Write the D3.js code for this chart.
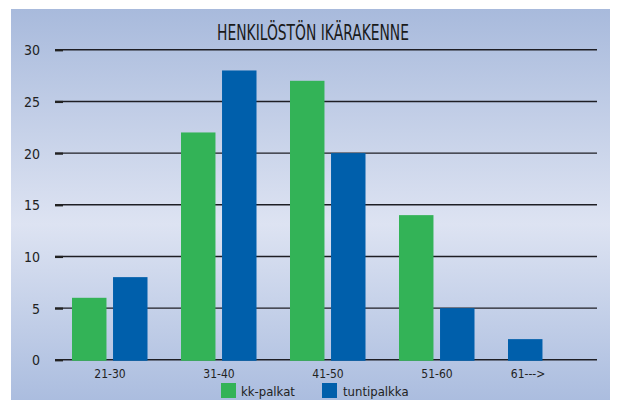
<!DOCTYPE html>
<html><head><meta charset="utf-8">
<script src="https://cdn.jsdelivr.net/npm/d3@7"></script>
<style>html,body{margin:0;padding:0;background:#fff;}svg{display:block;}</style>
</head><body>
<script>
const title = "HENKILÖSTÖN IKÄRAKENNE";
const categories = ["21-30", "31-40", "41-50", "51-60", "61--->"];
const seriesNames = ["kk-palkat", "tuntipalkka"];
const kkPalkat = [6, 22, 27, 14, 0];
const tuntipalkka = [8, 28, 20, 5, 2];
const yTicks = [0, 5, 10, 15, 20, 25, 30];
const colors = ["#33b357", "#005fab"];

const W = 617, H = 400;
const svg = d3.select("body").append("svg").attr("width", W).attr("height", H);
const defs = svg.append("defs");
const grad = defs.append("linearGradient").attr("id", "bg").attr("x1", 0).attr("y1", 0).attr("x2", 0).attr("y2", 1);
grad.append("stop").attr("offset", "0%").attr("stop-color", "#a8badc");
grad.append("stop").attr("offset", "55%").attr("stop-color", "#dde3f2");
grad.append("stop").attr("offset", "100%").attr("stop-color", "#abbddf");
svg.append("rect").attr("x", 11).attr("y", 9).attr("width", 599).attr("height", 391).attr("fill", "url(#bg)");

const font = "'Liberation Sans Narrow', 'DejaVu Sans Condensed', 'Roboto Condensed', sans-serif";

const x0 = d3.scaleBand().domain(categories).range([55.5, 600.5]);
const x1 = d3.scaleBand().domain([0, 1]).range([16.5, 92]).paddingInner(0.16);
const y = d3.scaleLinear().domain([0, 30]).range([359.8, 49.8]);

// gridlines
const grid = svg.append("g");
grid.selectAll("line").data(yTicks).join("line")
  .attr("x1", 55).attr("x2", 597)
  .attr("y1", d => y(d)).attr("y2", d => y(d))
  .attr("stroke", "#1e1e24").attr("stroke-width", 1.4);

// y axis
const yAxis = svg.append("g").attr("transform", "translate(63,0)")
  .call(d3.axisLeft(y).tickValues(yTicks).tickSize(8).tickPadding(15).tickFormat(d3.format("d")));
yAxis.select(".domain").remove();
yAxis.selectAll(".tick line").attr("stroke", "#222").attr("stroke-width", 2.2);
yAxis.selectAll(".tick text").attr("font-family", font).attr("font-size", 14).attr("fill", "#222")
  .attr("dy", "0.35em");

// bars (bars with a value are packed into the slots from the left, as in the original)
const data = categories.map((c, i) => ({cat: c, vals: [kkPalkat[i], tuntipalkka[i]]}));
const groups = svg.append("g").selectAll("g").data(data).join("g")
  .attr("transform", d => `translate(${x0(d.cat)},0)`);
groups.selectAll("rect")
  .data(d => d.vals.map((v, j) => ({v, j})).filter(e => e.v > 0).map((e, k) => ({...e, slot: k})))
  .join("rect")
  .attr("x", e => x1(e.slot)).attr("width", x1.bandwidth())
  .attr("y", e => y(e.v)).attr("height", e => y(0) - y(e.v) + 1)
  .attr("fill", e => colors[e.j]);

// x axis
const xAxis = svg.append("g").attr("transform", `translate(0,${y(0)})`)
  .call(d3.axisBottom(x0).tickSize(0).tickPadding(10));
xAxis.select(".domain").remove();
xAxis.selectAll(".tick text").attr("font-family", font).attr("font-size", 12).attr("fill", "#222");
xAxis.selectAll(".tick text").filter(d => d === "61--->").attr("dx", -18);

// title
svg.append("text").attr("x", 313).attr("y", 40).attr("text-anchor", "middle")
  .attr("font-family", font).attr("font-size", 21).attr("fill", "#1a1a1a")
  .attr("textLength", 192).attr("lengthAdjust", "spacingAndGlyphs")
  .text(title);

// legend
const legendX = [221, 322];
const leg = svg.append("g").selectAll("g").data(seriesNames).join("g")
  .attr("transform", (d, i) => `translate(${legendX[i]},383)`);
leg.append("rect").attr("width", 15).attr("height", 15).attr("fill", (d, i) => colors[i]);
leg.append("text").attr("x", (d, i) => i === 0 ? 20 : 21).attr("y", 12.5)
  .attr("font-family", font).attr("font-size", 13).attr("fill", "#222").text(d => d);
</script>
</body></html>
